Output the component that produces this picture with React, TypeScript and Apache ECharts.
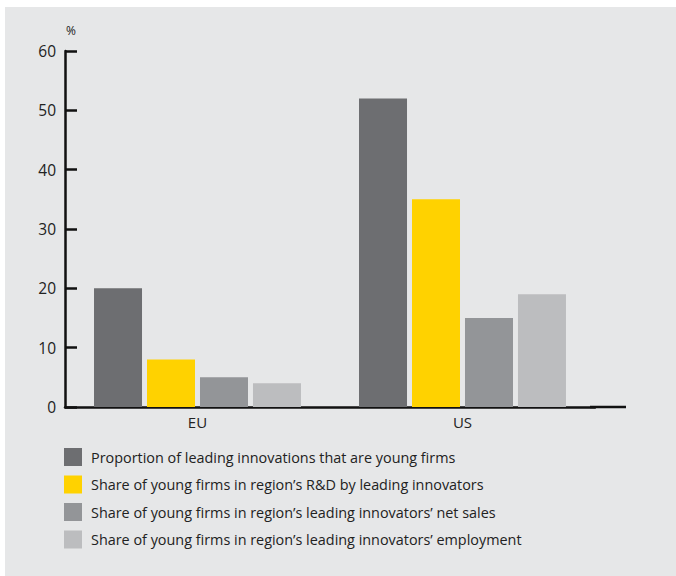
import React, { useEffect, useRef } from "react";
import * as echarts from "echarts";

const categories = ["EU", "US"];
const seriesNames = [
  "Proportion of leading innovations that are young firms",
  "Share of young firms in region\u2019s R&D by leading innovators",
  "Share of young firms in region\u2019s leading innovators\u2019 net sales",
  "Share of young firms in region\u2019s leading innovators\u2019 employment",
];
const proportionLeading = [20, 52];
const shareRD = [8, 35];
const shareNetSales = [5, 15];
const shareEmployment = [4, 19];
const colors = ["#6d6e71", "#ffd200", "#939598", "#bcbdbf"];
const FONT = "Open Sans";

export default function App() {
  const ref = useRef<HTMLDivElement>(null);
  useEffect(() => {
    document.body.style.margin = "0";
    const chart = echarts.init(ref.current!, null, { renderer: "svg" });
    const values = [proportionLeading, shareRD, shareNetSales, shareEmployment];
    chart.setOption({
      animation: false,
      backgroundColor: "#ffffff",
      textStyle: { fontFamily: FONT },
      graphic: [
        {
          type: "rect",
          z: -10,
          silent: true,
          shape: { x: 5, y: 7, width: 671, height: 569 },
          style: { fill: "#e6e7e8" },
        },
        {
          type: "text",
          x: 66,
          y: 30,
          style: {
            text: "%",
            fontSize: 12,
            fontFamily: FONT,
            fill: "#222",
            verticalAlign: "middle",
          },
        },
        {
          type: "line",
          shape: { x1: 590, y1: 407, x2: 626, y2: 407 },
          style: { stroke: "#111", lineWidth: 2.5 },
        },
      ],
      grid: { left: 65, top: 51, width: 530, height: 356, containLabel: false },
      legend: {
        orient: "vertical",
        left: 64,
        top: 448,
        padding: 0,
        itemWidth: 18,
        itemHeight: 18,
        itemGap: 9.5,
        icon: "rect",
        textStyle: { fontSize: 14.4, color: "#222", fontFamily: FONT, padding: [0, 0, 0, 4] },
        data: seriesNames,
      },
      xAxis: {
        type: "category",
        data: categories,
        axisLine: { lineStyle: { color: "#111", width: 2.5 } },
        axisTick: { show: false },
        axisLabel: { fontSize: 15, color: "#222", margin: 7, fontFamily: FONT },
      },
      yAxis: {
        type: "value",
        min: 0,
        max: 60,
        interval: 10,
        axisLine: { show: true, lineStyle: { color: "#111", width: 2.5 } },
        axisTick: { show: true, inside: true, length: 12, lineStyle: { color: "#111", width: 2.5 } },
        splitLine: { show: false },
        axisLabel: { fontSize: 15.5, color: "#222", margin: 9, fontFamily: FONT },
      },
      series: seriesNames.map((name, i) => ({
        name,
        type: "bar",
        data: values[i],
        barWidth: 48,
        barGap: "10.4%",
        itemStyle: { color: colors[i] },
      })),
    });
    return () => chart.dispose();
  }, []);
  return <div ref={ref} style={{ width: 676, height: 576 }} />;
}
